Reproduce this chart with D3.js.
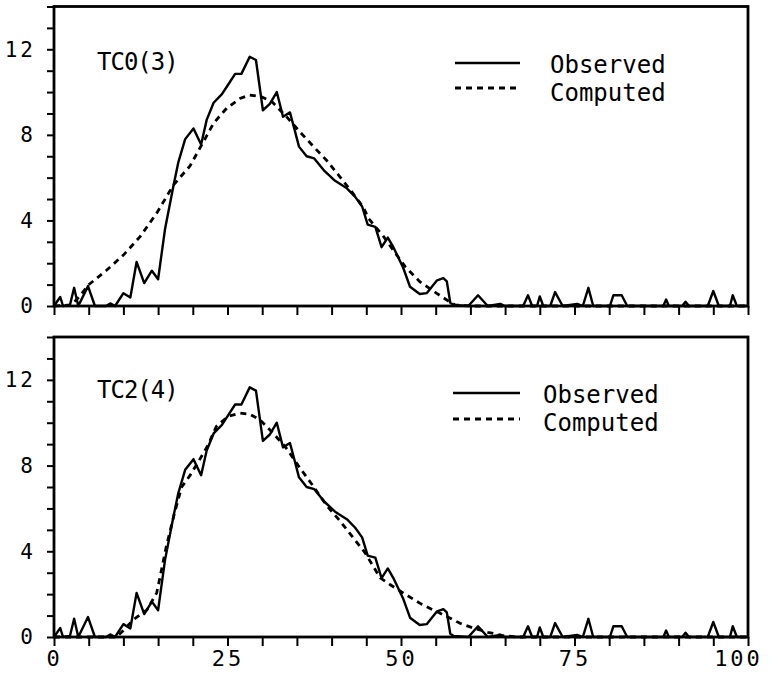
<!DOCTYPE html>
<html>
<head>
<meta charset="utf-8">
<script src="https://cdn.jsdelivr.net/npm/d3@7/dist/d3.min.js"></script>
<style>
  body { margin: 0; background: #fff; }
  svg { display: block; }
  .tick text { font-family: "DejaVu Sans Mono", monospace; fill: #000; }
  .lbl { font-family: "DejaVu Sans Mono", monospace; font-size: 24px; fill: #000; }
</style>
</head>
<body>
<svg id="chart" width="772" height="678"></svg>
<script>
// observed profile (same in both panels): [x, y]
const observed = [
  [0,0],[0.9,0.42],[1.3,0],[2.3,0.05],[2.9,0.85],[3.5,0],[4.9,0.93],[5.9,0],[7.5,0],[8.1,0.12],[8.8,0],
  [10,0.6],[11,0.4],[11.9,2.06],[13,1.07],[14.1,1.65],[15,1.25],[16,3.6],[17.2,5.6],[17.9,6.7],[18.9,7.8],
  [20.1,8.3],[21.2,7.55],[22,8.7],[23,9.5],[24.2,9.9],[25.2,10.4],[26.1,10.85],[27,10.85],[28.2,11.65],
  [29.1,11.5],[30.1,9.15],[31.1,9.45],[32.1,10.0],[33,8.85],[34,9.05],[34.7,8.2],[35.3,7.45],[36.4,7.0],
  [37.5,6.9],[39,6.3],[40.5,5.85],[42.2,5.5],[43.4,5.1],[44.4,4.65],[45.2,3.8],[46.3,3.7],[47.2,2.75],
  [48.1,3.2],[48.9,2.75],[50.3,1.8],[51.3,0.9],[52.7,0.56],[53.7,0.6],[55.2,1.2],[56.1,1.3],[56.6,1.15],
  [57.1,0.15],[57.6,0.05],[59.7,0],[61.1,0.5],[62.5,0],[64.3,0.1],[65,0],[67.6,0],[68.3,0.5],[68.9,0],
  [69.6,0],[70,0.45],[70.5,0],[71.5,0],[72.2,0.65],[73.3,0],[75.4,0.1],[76.2,0],[77,0.85],[77.7,0],
  [80.1,0],[80.6,0.5],[81.8,0.5],[82.6,0],[87.8,0],[88.2,0.3],[88.6,0],[90.5,0],[91,0.2],[91.5,0],
  [94.2,0],[95,0.7],[95.8,0],[97.4,0],[97.8,0.5],[98.4,0],[100,0]
];

// computed, TC0(3)
const computedTop = [
  [0,0],[2.5,0.05],[3.7,0.45],[4.95,0.98],[7.6,1.68],[10,2.38],[12.4,3.24],[14.8,4.34],[17.2,5.65],
  [19.6,6.55],[22,7.95],[23,8.55],[24.9,9.25],[26.8,9.7],[28.2,9.86],[29.9,9.78],[31.4,9.55],[33.5,8.85],
  [35.4,8.15],[37.4,7.45],[39.3,6.8],[41.2,6.04],[43,5.3],[44.6,4.6],[45.3,4.1],[47.5,3.24],[48.9,2.6],
  [50.6,1.84],[52.7,1.14],[55.1,0.6],[56.6,0.28],[57.8,0.05],[60,0],[100,0]
];

// computed, TC2(4)
const computedBottom = [
  [0,0],[9,0],[10,0.3],[11.4,0.8],[13.4,1.27],[14.8,2.06],[15.3,2.84],[16.2,4.25],[17.4,5.83],[18.4,7.0],
  [19.6,7.54],[20.8,8.18],[22.2,8.96],[23.4,9.83],[25.1,10.3],[26.8,10.45],[28.2,10.4],[29.7,10.13],
  [31.6,9.5],[33.5,8.8],[35.2,8.0],[37.1,7.15],[39.3,6.13],[41.2,5.42],[42.9,4.72],[44.8,3.94],[47,2.76],
  [48.4,2.45],[50.3,2.06],[52.7,1.58],[54.6,1.27],[56.6,0.96],[58.5,0.64],[60.4,0.42],[62.5,0.22],
  [64.5,0.08],[66.5,0],[100,0]
];

const panelNames = ["TC0(3)", "TC2(4)"];
const legendNames = ["Observed", "Computed"];
const xTicks = d3.range(0, 101, 5);
const xLabels = [0, 25, 50, 75, 100];
const yTicks = d3.range(0, 15, 1);
const yLabels = [0, 4, 8, 12];

const svg = d3.select("#chart");
const left = 54, right = 748;
const x = d3.scaleLinear().domain([0, 100]).range([left, right]);

// panel layout: top/bottom pixel of the frame + legend placement
const panels = [
  { name: panelNames[0], comp: computedTop, top: 6.5, bottom: 306, labelY: 70,
    legX1: 455, legX2: 520, legY: [63, 88], legTx: 550, legTy: [73, 101], xLab: false },
  { name: panelNames[1], comp: computedBottom, top: 337, bottom: 637, labelY: 398,
    legX1: 453, legX2: 520, legY: [393, 419], legTx: 543, legTy: [403, 431], xLab: true }
];

panels.forEach(p => {
  const y = d3.scaleLinear().domain([0, 14]).range([p.bottom, p.top]);
  const g = svg.append("g");

  const line = d3.line().x(d => x(d[0])).y(d => y(d[1]));

  // curves
  g.append("path").datum(p.comp)
    .attr("d", line).attr("fill", "none").attr("stroke", "#000")
    .attr("stroke-width", 2.8).attr("stroke-dasharray", "6,5");
  g.append("path").datum(observed)
    .attr("d", line).attr("fill", "none").attr("stroke", "#000")
    .attr("stroke-width", 2.4).attr("stroke-linejoin", "round");

  // y axis
  const ya = g.append("g").attr("transform", `translate(${left},0)`)
    .call(d3.axisLeft(y).tickValues(yTicks).tickSize(7).tickPadding(11)
      .tickFormat(d => yLabels.includes(d) ? d : ""));
  ya.select(".domain").remove();
  ya.selectAll(".tick line").attr("stroke", "#000").attr("stroke-width", 2);
  ya.selectAll(".tick text").style("font-size", "21px").style("letter-spacing", "3px");

  // x axis
  const xa = g.append("g").attr("transform", `translate(0,${p.bottom})`)
    .call(d3.axisBottom(x).tickValues(xTicks).tickSize(9).tickPadding(4)
      .tickFormat(d => p.xLab && xLabels.includes(d) ? d : ""));
  xa.select(".domain").remove();
  xa.selectAll(".tick line").attr("stroke", "#000").attr("stroke-width", 2);
  xa.selectAll(".tick text").style("font-size", "22px").style("letter-spacing", "3px")
    .attr("dx", d => d === 100 ? -10 : 0);

  // frame
  g.append("rect")
    .attr("x", left).attr("y", p.top)
    .attr("width", right - left).attr("height", p.bottom - p.top)
    .attr("fill", "none").attr("stroke", "#000").attr("stroke-width", 2.8);

  // panel label
  g.append("text").attr("class", "lbl")
    .attr("x", 97).attr("y", p.labelY).style("letter-spacing", "-1px")
    .text(p.name);

  // legend
  g.append("line").attr("x1", p.legX1).attr("x2", p.legX2)
    .attr("y1", p.legY[0]).attr("y2", p.legY[0])
    .attr("stroke", "#000").attr("stroke-width", 2.4);
  g.append("line").attr("x1", p.legX1).attr("x2", p.legX2)
    .attr("y1", p.legY[1]).attr("y2", p.legY[1])
    .attr("stroke", "#000").attr("stroke-width", 2.8).attr("stroke-dasharray", "6,5");
  legendNames.forEach((n, i) => {
    g.append("text").attr("class", "lbl")
      .attr("x", p.legTx).attr("y", p.legTy[i]).text(n);
  });
});
</script>
</body>
</html>
